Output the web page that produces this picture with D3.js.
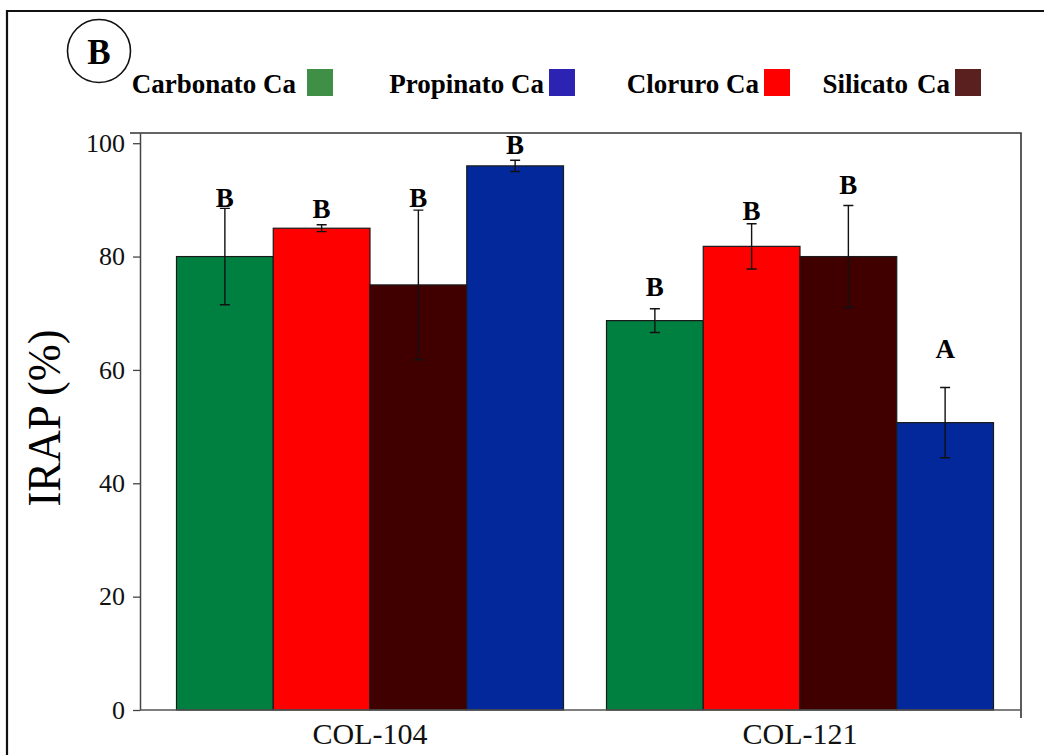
<!DOCTYPE html>
<html>
<head>
<meta charset="utf-8">
<script src="https://cdn.jsdelivr.net/npm/d3@7"></script>
<style>
  body { margin: 0; background: #fff; }
  svg { display: block; font-family: "Liberation Serif", "Times New Roman", serif; }
</style>
</head>
<body>
<div class="chart"></div>
<script>
// data
var groups = ["COL-104", "COL-121"];
var seriesNames = ["Carbonato Ca", "Cloruro Ca", "Silicato Ca", "Propinato Ca"];
var barColors = ["#008040", "#ff0000", "#400000", "#03289b"];

var means104 = [80, 85, 75, 96];
var means121 = [68.7, 81.8, 80, 50.7];
var err104 = [8.5, 0.6, 13.2, 1.0];
var err121 = [2.1, 4.0, 9.0, 6.2];
var letters104 = ["B", "B", "B", "B"];
var letters121 = ["B", "B", "B", "A"];
// height (in % units) where each letter sits
var letterAt104 = [88.7, 86.8, 88.7, 98.1];
var letterAt121 = [73.1, 86.4, 91.0, 62.1];

var yTicks = [0, 20, 40, 60, 80, 100];

// legend (its own order and colours)
var legendNames = ["Carbonato Ca", "Propinato Ca", "Cloruro Ca", "Silicato\u200a Ca"];
var legendColors = ["#3f8f46", "#2d23b3", "#ff0000", "#5a2020"];
var legendSwatchX = [307, 549, 764, 955];

var svgWidth = 1044;
var svgHeight = 755;

var svg = d3.select(".chart")
    .append("svg")
    .attr("width", svgWidth)
    .attr("height", svgHeight);

// outer panel border (left + top)
svg.append("path")
    .attr("d", "M7,755 L7,11 L1044,11")
    .attr("fill", "none")
    .attr("stroke", "#111")
    .attr("stroke-width", 2.2);

// panel letter in circle
svg.append("circle")
    .attr("cx", 99).attr("cy", 51).attr("r", 31.5)
    .attr("fill", "none").attr("stroke", "#111").attr("stroke-width", 1.6);
svg.append("text")
    .attr("x", 99).attr("y", 63.5)
    .attr("text-anchor", "middle")
    .attr("font-weight", "bold")
    .attr("font-size", 35)
    .text("B");

// legend
var legend = svg.append("g").attr("class", "legend");
legendNames.forEach(function (name, i) {
    legend.append("rect")
        .attr("x", legendSwatchX[i]).attr("y", 69)
        .attr("width", 26).attr("height", 27)
        .attr("fill", legendColors[i]);
    legend.append("text")
        .attr("x", legendSwatchX[i] - (i == 0 ? 11 : 5))
        .attr("y", 92.5)
        .attr("text-anchor", "end")
        .attr("font-weight", "bold")
        .attr("font-size", 27)
        .text(name);
});

// Step 1: scales
var plot = { left: 140, right: 1021, top: 133, bottom: 710 };

var x0 = d3.scaleBand()
    .domain(groups)
    .range([155, 1015])
    .paddingInner(0.1)
    .paddingOuter(0.05);

var x1 = d3.scaleBand()
    .domain(seriesNames)
    .range([0, x0.bandwidth()]);

var yScale = d3.scaleLinear()
    .domain([0, 101.8])
    .range([plot.bottom, plot.top]);

var color = d3.scaleOrdinal().domain(seriesNames).range(barColors);

// build rows
var rows = [];
[[means104, err104, letters104, letterAt104], [means121, err121, letters121, letterAt121]].forEach(function (set, g) {
    seriesNames.forEach(function (s, i) {
        rows.push({
            group: groups[g], series: s,
            value: set[0][i], err: set[1][i],
            letter: set[2][i], letterAt: set[3][i]
        });
    });
});

// Step 2: bars
svg.append("g").selectAll("rect")
    .data(rows)
    .enter()
    .append("rect")
    .attr("x", d => x0(d.group) + x1(d.series))
    .attr("y", d => yScale(d.value))
    .attr("width", x1.bandwidth())
    .attr("height", d => yScale(0) - yScale(d.value))
    .attr("fill", d => color(d.series))
    .attr("stroke", "#1a1a1a")
    .attr("stroke-width", 1.2);

// Step 3: error bars
var cx = d => x0(d.group) + x1(d.series) + x1.bandwidth() / 2;
var errG = svg.append("g")
    .attr("stroke", "#111")
    .attr("stroke-width", 1.4)
    .attr("fill", "none");

errG.selectAll("path")
    .data(rows)
    .enter()
    .append("path")
    .attr("d", function (d) {
        var x = cx(d), yt = yScale(d.value + d.err), yb = yScale(d.value - d.err);
        return "M" + x + "," + yt + "L" + x + "," + yb +
            "M" + (x - 5) + "," + yt + "L" + (x + 5) + "," + yt +
            "M" + (x - 5) + "," + yb + "L" + (x + 5) + "," + yb;
    });

// Step 4: significance letters
svg.append("g").selectAll("text")
    .data(rows)
    .enter()
    .append("text")
    .attr("x", cx)
    .attr("y", d => yScale(d.letterAt))
    .attr("text-anchor", "middle")
    .attr("font-weight", "bold")
    .attr("font-size", 27)
    .text(d => d.letter);

// Step 5: axes and frame
// top and right frame lines
svg.append("path")
    .attr("d", "M130," + plot.top + " L" + plot.right + "," + plot.top + " L" + plot.right + ",718")
    .attr("fill", "none")
    .attr("stroke", "#333")
    .attr("stroke-width", 1.6);

var leftAxis = d3.axisLeft(yScale)
    .tickValues(yTicks)
    .tickSize(7)
    .tickPadding(8)
    .tickSizeOuter(0);

var yAxisG = svg.append("g")
    .attr("transform", `translate(${plot.left}, 0)`)
    .call(leftAxis);
yAxisG.select(".domain").attr("stroke", "#444").attr("stroke-width", 1.5);
yAxisG.selectAll(".tick line").attr("stroke", "#444").attr("stroke-width", 1.3);
yAxisG.selectAll(".tick text")
    .attr("font-family", "Liberation Serif, serif")
    .attr("font-size", 26)
    .attr("fill", "#111");

var bottomAxis = d3.axisBottom(x0)
    .tickSize(0)
    .tickPadding(10)
    .tickSizeOuter(0);

var xAxisG = svg.append("g")
    .attr("transform", `translate(0, ${plot.bottom})`)
    .call(bottomAxis);
xAxisG.select(".domain")
    .attr("d", "M" + plot.left + ",0H" + plot.right)
    .attr("stroke", "#555").attr("stroke-width", 1.5);
xAxisG.selectAll(".tick text")
    .attr("font-family", "Liberation Serif, serif")
    .attr("font-size", 30)
    .attr("fill", "#111")
    .attr("dy", "0")
    .attr("y", 34);

// y axis title
svg.append("text")
    .attr("transform", "translate(60, 418) rotate(-90)")
    .attr("text-anchor", "middle")
    .attr("font-size", 46)
    .attr("textLength", 177)
    .attr("lengthAdjust", "spacingAndGlyphs")
    .text("IRAP (%)");
</script>
</body>
</html>
